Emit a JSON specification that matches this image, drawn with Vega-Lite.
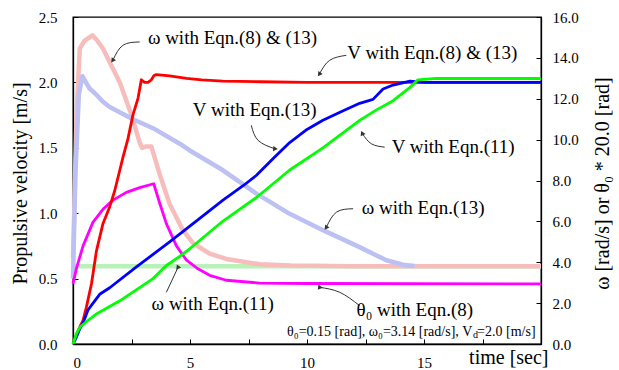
{
  "$schema": "https://vega.github.io/schema/vega-lite/v6.json",
  "width": 468,
  "height": 327,
  "autosize": {"type": "none"},
  "padding": {"left": 73, "top": 17, "right": 78, "bottom": 26},
  "background": "white",
  "config": {
    "font": "Liberation Serif",
    "view": {"stroke": "#000", "strokeWidth": 1.3},
    "axis": {
      "grid": false,
      "labelFont": "Liberation Serif",
      "labelFontSize": 15,
      "labelColor": "#000",
      "titleFont": "Liberation Serif",
      "titleFontSize": 20,
      "titleFontWeight": "normal",
      "titleColor": "#000",
      "domainColor": "#000",
      "domainWidth": 1.3,
      "tickColor": "#000",
      "tickWidth": 1,
      "tickSize": -5
    },
    "text": {"font": "Liberation Serif"}
  },
  "datasets": {
    "V": [
      {"s":"V8","t":0,"v":0},{"s":"V8","t":0.15,"v":0.07},{"s":"V8","t":0.29,"v":0.13},{"s":"V8","t":0.43,"v":0.18},{"s":"V8","t":0.57,"v":0.28},{"s":"V8","t":0.79,"v":0.46},{"s":"V8","t":1.0,"v":0.71},{"s":"V8","t":1.28,"v":0.92},{"s":"V8","t":1.57,"v":1.05},{"s":"V8","t":1.78,"v":1.17},{"s":"V8","t":2.14,"v":1.43},{"s":"V8","t":2.35,"v":1.57},{"s":"V8","t":2.56,"v":1.75},{"s":"V8","t":2.78,"v":1.88},{"s":"V8","t":2.92,"v":2.02},{"s":"V8","t":3.06,"v":2.0},{"s":"V8","t":3.2,"v":2.0},{"s":"V8","t":3.35,"v":2.02},{"s":"V8","t":3.45,"v":2.05},{"s":"V8","t":3.56,"v":2.06},{"s":"V8","t":4.13,"v":2.05},{"s":"V8","t":4.85,"v":2.03},{"s":"V8","t":5.5,"v":2.02},{"s":"V8","t":6.4,"v":2.01},{"s":"V8","t":8,"v":2.005},{"s":"V8","t":10,"v":2.0},{"s":"V8","t":12.7,"v":2.0},{"s":"V8","t":15,"v":2.0},{"s":"V8","t":17.5,"v":2.0},{"s":"V8","t":20,"v":2.0},
      {"s":"V13","t":0,"v":0},{"s":"V13","t":0.14,"v":0.05},{"s":"V13","t":0.3,"v":0.12},{"s":"V13","t":0.43,"v":0.16},{"s":"V13","t":0.64,"v":0.26},{"s":"V13","t":0.85,"v":0.31},{"s":"V13","t":1.14,"v":0.38},{"s":"V13","t":1.57,"v":0.43},{"s":"V13","t":2.71,"v":0.59},{"s":"V13","t":4.13,"v":0.78},{"s":"V13","t":5.13,"v":0.92},{"s":"V13","t":6.41,"v":1.1},{"s":"V13","t":7.27,"v":1.21},{"s":"V13","t":7.84,"v":1.29},{"s":"V13","t":8.62,"v":1.43},{"s":"V13","t":9.26,"v":1.54},{"s":"V13","t":10.0,"v":1.64},{"s":"V13","t":10.68,"v":1.71},{"s":"V13","t":11.5,"v":1.78},{"s":"V13","t":12.25,"v":1.84},{"s":"V13","t":12.82,"v":1.87},{"s":"V13","t":13.25,"v":1.95},{"s":"V13","t":13.68,"v":1.98},{"s":"V13","t":14.4,"v":2.01},{"s":"V13","t":15,"v":2.0},{"s":"V13","t":20,"v":2.0},
      {"s":"V11","t":0,"v":0},{"s":"V11","t":0.15,"v":0.08},{"s":"V11","t":0.3,"v":0.13},{"s":"V11","t":0.57,"v":0.17},{"s":"V11","t":1.0,"v":0.23},{"s":"V11","t":2.0,"v":0.33},{"s":"V11","t":3.42,"v":0.5},{"s":"V11","t":3.99,"v":0.6},{"s":"V11","t":4.56,"v":0.67},{"s":"V11","t":5.0,"v":0.73},{"s":"V11","t":6.41,"v":0.94},{"s":"V11","t":7.84,"v":1.12},{"s":"V11","t":9.26,"v":1.33},{"s":"V11","t":10.68,"v":1.5},{"s":"V11","t":12.25,"v":1.71},{"s":"V11","t":12.97,"v":1.79},{"s":"V11","t":13.68,"v":1.86},{"s":"V11","t":14.39,"v":1.96},{"s":"V11","t":14.74,"v":2.02},{"s":"V11","t":15.5,"v":2.03},{"s":"V11","t":17,"v":2.03},{"s":"V11","t":20,"v":2.03}
    ],
    "W": [
      {"s":"W11","t":0,"w":3.8},{"s":"W11","t":10,"w":3.8},{"s":"W11","t":20,"w":3.8},
      {"s":"W813","t":0,"w":4.22},{"s":"W813","t":0.08,"w":7.7},{"s":"W813","t":0.15,"w":11.2},{"s":"W813","t":0.29,"w":14.46},{"s":"W813","t":0.5,"w":14.85},{"s":"W813","t":0.83,"w":15.1},{"s":"W813","t":1.0,"w":14.9},{"s":"W813","t":1.28,"w":14.46},{"s":"W813","t":1.64,"w":13.63},{"s":"W813","t":2.0,"w":12.8},{"s":"W813","t":2.5,"w":11.2},{"s":"W813","t":2.85,"w":9.86},{"s":"W813","t":2.95,"w":9.6},{"s":"W813","t":3.1,"w":9.66},{"s":"W813","t":3.35,"w":9.66},{"s":"W813","t":3.7,"w":8.32},{"s":"W813","t":4.13,"w":6.85},{"s":"W813","t":4.7,"w":5.57},{"s":"W813","t":5.13,"w":4.93},{"s":"W813","t":5.84,"w":4.42},{"s":"W813","t":6.55,"w":4.16},{"s":"W813","t":7.98,"w":3.9},{"s":"W813","t":9.3,"w":3.84},{"s":"W813","t":12,"w":3.81},{"s":"W813","t":20,"w":3.81},
      {"s":"W13","t":0,"w":3.2},{"s":"W13","t":0.1,"w":8.3},{"s":"W13","t":0.25,"w":12.2},{"s":"W13","t":0.4,"w":13.1},{"s":"W13","t":0.71,"w":12.5},{"s":"W13","t":1.0,"w":12.2},{"s":"W13","t":1.28,"w":11.85},{"s":"W13","t":1.57,"w":11.6},{"s":"W13","t":2.56,"w":11.0},{"s":"W13","t":3.42,"w":10.56},{"s":"W13","t":4.56,"w":9.8},{"s":"W13","t":4.99,"w":9.47},{"s":"W13","t":6.41,"w":8.5},{"s":"W13","t":7.84,"w":7.36},{"s":"W13","t":9.26,"w":6.37},{"s":"W13","t":10.68,"w":5.57},{"s":"W13","t":12.25,"w":4.74},{"s":"W13","t":12.82,"w":4.42},{"s":"W13","t":13.39,"w":4.1},{"s":"W13","t":14.1,"w":3.88},{"s":"W13","t":14.6,"w":3.82}
    ],
    "TH": [
      {"s":"TH","t":0,"w":2.94},{"s":"TH","t":0.15,"w":3.71},{"s":"TH","t":0.43,"w":4.8},{"s":"TH","t":0.85,"w":5.95},{"s":"TH","t":1.28,"w":6.59},{"s":"TH","t":1.71,"w":7.04},{"s":"TH","t":2.28,"w":7.42},{"s":"TH","t":2.85,"w":7.65},{"s":"TH","t":3.45,"w":7.84},{"s":"TH","t":3.7,"w":6.91},{"s":"TH","t":3.99,"w":5.89},{"s":"TH","t":4.42,"w":4.8},{"s":"TH","t":4.85,"w":4.1},{"s":"TH","t":5.34,"w":3.68},{"s":"TH","t":5.84,"w":3.36},{"s":"TH","t":6.55,"w":3.12},{"s":"TH","t":7.98,"w":2.98},{"s":"TH","t":10,"w":2.96},{"s":"TH","t":20,"w":2.94}
    ],
    "notes": [
      {"label":"ω with Eqn.(8) & (13)","t":3.2,"v":2.338},
      {"label":"V with Eqn.(8) & (13)","t":11.72,"v":2.223},
      {"label":"V with Eqn.(13)","t":5.12,"v":1.786},
      {"label":"V with Eqn.(11)","t":13.62,"v":1.505},
      {"label":"ω with Eqn.(13)","t":12.34,"v":1.036},
      {"label":"ω with Eqn.(11)","t":3.36,"v":0.309},
      {"label":"θ₀ with Eqn.(8)","t":12.12,"v":0.263}
    ],
    "arrows": [
      {"a":1,"t":2.85,"v":2.309,"end":false},{"a":1,"t":2.137,"v":2.284,"end":false},{"a":1,"t":1.709,"v":2.171,"end":true},
      {"a":2,"t":11.68,"v":2.207,"end":false},{"a":2,"t":10.97,"v":2.169,"end":false},{"a":2,"t":10.54,"v":2.067,"end":true},
      {"a":3,"t":7.62,"v":1.672,"end":false},{"a":3,"t":7.91,"v":1.557,"end":false},{"a":3,"t":8.62,"v":1.493,"end":true},
      {"a":4,"t":13.32,"v":1.505,"end":false},{"a":4,"t":12.75,"v":1.531,"end":false},{"a":4,"t":12.37,"v":1.608,"end":true},
      {"a":5,"t":11.97,"v":1.034,"end":false},{"a":5,"t":11.26,"v":1.008,"end":false},{"a":5,"t":10.83,"v":0.893,"end":true},
      {"a":6,"t":3.99,"v":0.395,"end":false},{"a":6,"t":4.49,"v":0.587,"end":true},
      {"a":7,"t":12.25,"v":0.293,"end":false},{"a":7,"t":11.4,"v":0.395,"end":false},{"a":7,"t":10.54,"v":0.433,"end":true}
    ]
  },
  "layer": [
    {
      "encoding": {
        "x": {"field": "t", "type": "quantitative", "scale": {"domain": [0, 20], "nice": false, "zero": false},
          "axis": {"values": [0, 2.5, 5, 7.5, 10, 12.5, 15, 17.5, 20], "labelExpr": "datum.value % 5 == 0 && datum.value < 20 ? format(datum.value, 'd') : ''", "labelPadding": 16, "title": "time [sec]", "titleX": 475, "titleY": 13, "titleAlign": "right", "titleBaseline": "middle", "titleAnchor": "end"}},
        "y": {"field": "w", "type": "quantitative", "scale": {"domain": [0, 16], "nice": false},
          "axis": {"orient": "right", "values": [0, 2, 4, 6, 8, 10, 12, 14, 16], "format": ".1f", "labelPadding": 16, "title": "ω [rad/s] or θ₀ * 20.0 [rad]", "titleAngle": 270, "titleX": 61, "titleY": 166, "titleAlign": "center", "titleBaseline": "middle"}},
        "color": {"field": "s", "type": "nominal", "legend": null,
          "scale": {"domain": ["V8", "V13", "V11", "W813", "W13", "W11", "TH"], "range": ["#ff0000", "#0000ff", "#00ff00", "#f7bcbc", "#bcc0f2", "#b8f2b8", "#ff00ff"]}}
      },
      "layer": [
        {"data": {"name": "W"}, "mark": {"type": "line", "strokeWidth": 4.5, "strokeJoin": "round"}},
        {"data": {"name": "TH"}, "mark": {"type": "line", "strokeWidth": 2.8, "strokeJoin": "round"}}
      ]
    },
    {
      "encoding": {
        "x": {"field": "t", "type": "quantitative", "scale": {"domain": [0, 20], "nice": false, "zero": false},
          "axis": {"values": [0, 2.5, 5, 7.5, 10, 12.5, 15, 17.5, 20], "labelExpr": "datum.value % 5 == 0 && datum.value < 20 ? format(datum.value, 'd') : ''", "labelPadding": 16, "title": "time [sec]", "titleX": 475, "titleY": 13, "titleAlign": "right", "titleBaseline": "middle", "titleAnchor": "end"}},
        "y": {"field": "v", "type": "quantitative", "scale": {"domain": [0, 2.5], "nice": false},
          "axis": {"orient": "left", "values": [0, 0.5, 1, 1.5, 2, 2.5], "format": ".1f", "labelPadding": 21, "title": "Propulsive velocity [m/s]", "titleAngle": 270, "titleX": -53, "titleY": 166, "titleAlign": "center", "titleBaseline": "middle"}}
      },
      "layer": [
        {"data": {"name": "V"}, "mark": {"type": "line", "strokeWidth": 2.8, "strokeJoin": "round"},
          "encoding": {"color": {"field": "s", "type": "nominal", "legend": null,
            "scale": {"domain": ["V8", "V13", "V11", "W813", "W13", "W11", "TH"], "range": ["#ff0000", "#0000ff", "#00ff00", "#f7bcbc", "#bcc0f2", "#b8f2b8", "#ff00ff"]}}}},
        {"data": {"name": "arrows"}, "mark": {"type": "line", "interpolate": "natural", "stroke": "#333", "strokeWidth": 1},
          "encoding": {"detail": {"field": "a", "type": "nominal"}}},
        {"data": {"name": "arrows"}, "transform": [{"filter": "datum.end"}],
          "mark": {"type": "point", "shape": "triangle", "filled": true, "fill": "#333", "stroke": null, "size": 28, "opacity": 1},
          "encoding": {"angle": {"field": "a", "type": "ordinal", "legend": null, "scale": {"domain": [1, 2, 3, 4, 5, 6, 7], "range": [214, 217, 116, 318, 214, 25, 284]}}}},
        {"data": {"name": "notes"}, "mark": {"type": "text", "align": "left", "baseline": "middle", "fontSize": 19, "color": "#000"},
          "encoding": {"text": {"field": "label"}}},
        {"data": {"values": [{"label": "θ₀=0.15 [rad], ω₀=3.14 [rad/s], V", "t": 17.07, "v": 0.089}]},
          "mark": {"type": "text", "align": "right", "baseline": "middle", "fontSize": 14, "color": "#000"},
          "encoding": {"text": {"field": "label"}}},
        {"data": {"values": [{"label": "d", "t": 17.09, "v": 0.068}]},
          "mark": {"type": "text", "align": "left", "baseline": "middle", "fontSize": 10, "color": "#000"},
          "encoding": {"text": {"field": "label"}}},
        {"data": {"values": [{"label": "=2.0 [m/s]", "t": 17.27, "v": 0.089}]},
          "mark": {"type": "text", "align": "left", "baseline": "middle", "fontSize": 14, "color": "#000"},
          "encoding": {"text": {"field": "label"}}}
      ]
    }
  ],
  "resolve": {"scale": {"y": "independent", "color": "independent"}, "axis": {"y": "independent"}}
}
